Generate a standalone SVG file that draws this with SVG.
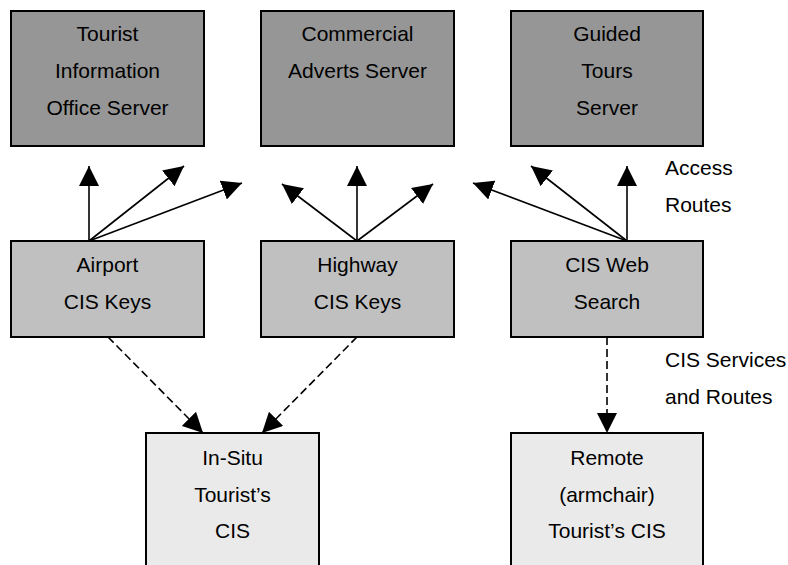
<svg xmlns="http://www.w3.org/2000/svg" width="788" height="565" viewBox="0 0 788 565">
<defs>
<style>
.box{stroke:#000;stroke-width:2}
.top{fill:#969696}
.mid{fill:#c0c0c0}
.bot{fill:#eaeaea}
text{font-family:"Liberation Sans",Arial,sans-serif;font-size:21px;fill:#000}
.c{text-anchor:middle}
.ln{stroke:#000;stroke-width:1.6;fill:none;marker-end:url(#ah)}
.dash{stroke-dasharray:8,4}
</style>
<marker id="ah" markerUnits="userSpaceOnUse" markerWidth="20" markerHeight="20" refX="20" refY="10" orient="auto" viewBox="0 0 20 20">
<path d="M0,0 L20,10 L0,20 z" fill="#000"/>
</marker>
</defs>
<rect width="788" height="565" fill="#fff"/>
<g id="tourist-info">
<rect class="box top" x="11" y="11" width="193" height="135"/>
<text class="c" x="107.5" y="41">Tourist</text>
<text class="c" x="107.5" y="78">Information</text>
<text class="c" x="107.5" y="115">Office Server</text>
</g>
<g id="commercial">
<rect class="box top" x="261" y="11" width="193" height="135"/>
<text class="c" x="357.5" y="41">Commercial</text>
<text class="c" x="357.5" y="78">Adverts Server</text>
</g>
<g id="guided">
<rect class="box top" x="511" y="11" width="192" height="135"/>
<text class="c" x="607" y="41">Guided</text>
<text class="c" x="607" y="78">Tours</text>
<text class="c" x="607" y="115">Server</text>
</g>
<g id="airport">
<rect class="box mid" x="11" y="241" width="193" height="96"/>
<text class="c" x="107.5" y="272">Airport</text>
<text class="c" x="107.5" y="309">CIS Keys</text>
</g>
<g id="highway">
<rect class="box mid" x="261" y="241" width="193" height="96"/>
<text class="c" x="357.5" y="272">Highway</text>
<text class="c" x="357.5" y="309">CIS Keys</text>
</g>
<g id="web">
<rect class="box mid" x="511" y="241" width="192" height="96"/>
<text class="c" x="607" y="272">CIS Web</text>
<text class="c" x="607" y="309">Search</text>
</g>
<g id="insitu">
<rect class="box bot" x="146" y="433" width="173" height="140"/>
<text class="c" x="232.5" y="465">In-Situ</text>
<text class="c" x="232.5" y="502">Tourist’s</text>
<text class="c" x="232.5" y="538">CIS</text>
</g>
<g id="remote">
<rect class="box bot" x="511" y="433" width="192" height="140"/>
<text class="c" x="607" y="465">Remote</text>
<text class="c" x="607" y="502">(armchair)</text>
<text class="c" x="607" y="538">Tourist’s CIS</text>
</g>
<g id="labels">
<text x="665" y="175">Access</text>
<text x="665" y="212">Routes</text>
<text x="665" y="367">CIS Services</text>
<text x="665" y="404">and Routes</text>
</g>
<g id="connectors">
<line class="ln" x1="89" y1="241" x2="89" y2="166"/>
<line class="ln" x1="89" y1="241" x2="184" y2="166"/>
<line class="ln" x1="89" y1="241" x2="242" y2="183"/>
<line class="ln" x1="357" y1="241" x2="282" y2="184"/>
<line class="ln" x1="357" y1="241" x2="357" y2="166"/>
<line class="ln" x1="357" y1="241" x2="433" y2="184"/>
<line class="ln" x1="627" y1="241" x2="473" y2="183"/>
<line class="ln" x1="627" y1="241" x2="531" y2="166"/>
<line class="ln" x1="627" y1="241" x2="627" y2="166"/>
<line class="ln dash" x1="108" y1="337" x2="203" y2="433"/>
<line class="ln dash" x1="357" y1="337" x2="262" y2="433"/>
<line class="ln dash" x1="607" y1="337" x2="607" y2="433"/>
</g>
</svg>
